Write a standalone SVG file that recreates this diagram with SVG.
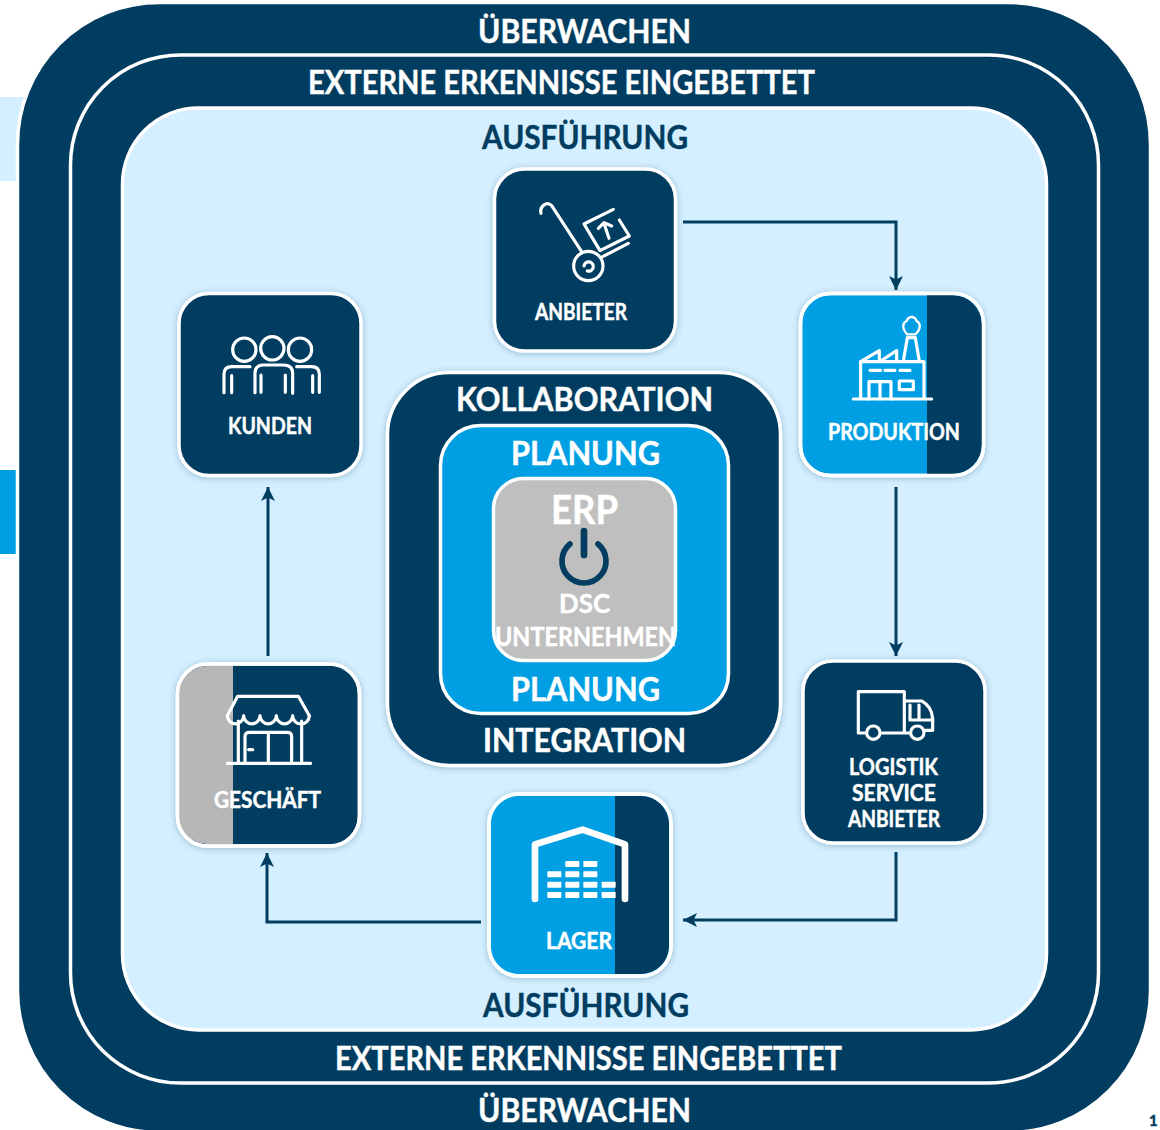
<svg xmlns="http://www.w3.org/2000/svg" width="1160" height="1130" viewBox="0 0 1160 1130">
<style>
text{font-family:"Lato","Liberation Sans",sans-serif;font-weight:700;fill:#fff;stroke:#fff;stroke-width:.45}
.b{font-size:32.500px}.l{font-size:22px}.n{fill:#013d60;stroke:#013d60}
.ic{fill:none;stroke:#fff;stroke-width:9.500;stroke-linecap:round;stroke-linejoin:round}
.cn{fill:none;stroke:#013d60;stroke-width:3;marker-end:url(#ah)}
.card{fill:#013d60;stroke:#fff;stroke-width:3.500;filter:url(#sh)}
.edge{fill:none;stroke:#fff;stroke-width:3.500}
</style>
<defs>
<marker id="ah" markerUnits="userSpaceOnUse" markerWidth="16" markerHeight="16" refX="14" refY="8" orient="auto"><path d="M0 1L14 8L0 15L3.500 8Z" fill="#013d60"/></marker>
<filter id="sh" x="-10%" y="-10%" width="120%" height="120%"><feDropShadow dx="0" dy="1" stdDeviation="3" flood-color="#013d60" flood-opacity=".3"/></filter>
</defs>
<rect width="1160" height="1130" fill="#fff"/>
<rect x="0" y="97" width="26" height="84" fill="#d4efff"/>
<rect x="0" y="470" width="16" height="84" fill="#009fe3"/>
<g id="frames">
<rect x="17.500" y="2.500" width="1133" height="1130" rx="142" fill="#013d60" stroke="#fff" stroke-width="3.500"/>
<rect x="70.500" y="55" width="1028" height="1028" rx="110" fill="#013d60" stroke="#fff" stroke-width="3.500"/>
<rect x="122.500" y="108" width="924" height="922" rx="76" fill="#d4efff" stroke="#fff" stroke-width="3.500"/>
</g>
<g id="frame-labels">
<text class="b" x="478" y="42.500" textLength="213" lengthAdjust="spacingAndGlyphs">ÜBERWACHEN</text>
<text class="b" x="308" y="93.500" textLength="507" lengthAdjust="spacingAndGlyphs">EXTERNE ERKENNISSE EINGEBETTET</text>
<text class="b n" x="482" y="148.500" textLength="206" lengthAdjust="spacingAndGlyphs">AUSFÜHRUNG</text>
<text class="b n" x="483" y="1016.500" textLength="206" lengthAdjust="spacingAndGlyphs">AUSFÜHRUNG</text>
<text class="b" x="335" y="1069.500" textLength="507" lengthAdjust="spacingAndGlyphs">EXTERNE ERKENNISSE EINGEBETTET</text>
<text class="b" x="478" y="1121.500" textLength="213" lengthAdjust="spacingAndGlyphs">ÜBERWACHEN</text>
<text class="n" x="1149" y="1126" font-size="15">1</text>
</g>
<g id="connectors">
<path class="cn" d="M683 222H896V290"/>
<path class="cn" d="M896 487V656"/>
<path class="cn" d="M896 852V920H683"/>
<path class="cn" d="M481 922H267V853"/>
<path class="cn" d="M268 656V487"/>
</g>
<g id="center">
<rect class="card" x="387.500" y="372.500" width="393" height="393" rx="62"/>
<rect x="440.500" y="425.500" width="288" height="288" rx="40" fill="#009fe3" stroke="#fff" stroke-width="3.500"/>
<text class="b" x="456" y="410.500" textLength="257" lengthAdjust="spacingAndGlyphs">KOLLABORATION</text>
<text class="b" x="511" y="464.500" textLength="149" lengthAdjust="spacingAndGlyphs">PLANUNG</text>
<text class="b" x="511" y="700.500" textLength="149" lengthAdjust="spacingAndGlyphs">PLANUNG</text>
<text class="b" x="483" y="751.500" textLength="203" lengthAdjust="spacingAndGlyphs">INTEGRATION</text>
</g>
<g id="erp">
<rect x="493.500" y="478.500" width="182" height="182" rx="30" fill="#bfbfbf" stroke="#fff" stroke-width="3.500"/>
<text x="551" y="524" font-size="41" textLength="67" lengthAdjust="spacingAndGlyphs">ERP</text>
<g transform="translate(480 470) scale(.3333)" fill="none" stroke="#013d60" stroke-linecap="round">
<path d="M270 222A66 66 0 1 0 354 222" stroke-width="17"/>
<path d="M312 183V255" stroke-width="20"/>
</g>
<text x="559" y="613" font-size="26" textLength="51" lengthAdjust="spacingAndGlyphs">DSC</text>
<text x="495" y="645.500" font-size="26" textLength="181" lengthAdjust="spacingAndGlyphs">UNTERNEHMEN</text>
</g>
<g id="anbieter">
<rect class="card" x="494.500" y="169" width="181" height="182" rx="30"/>
<g class="ic" transform="translate(480 160) scale(.3333)">
<path d="M183 160C178 140 200 122 215 137L305 275"/>
<circle cx="325" cy="318" r="44"/>
<path d="M312 318A14 14 0 1 1 322 333"/>
<path d="M400 148L312 192L360 272L448 228L418 180"/>
<path d="M387 235L372 190M355 205L372 188L395 198"/>
<path d="M368 290L445 250"/>
</g>
<text class="l" x="535" y="319.500" textLength="92" lengthAdjust="spacingAndGlyphs">ANBIETER</text>
</g>
<g id="produktion">
<rect class="card" x="800.500" y="293.500" width="183" height="182" rx="30" style="fill:#009fe3"/>
<path d="M927 295H952A30 30 0 0 1 982 325V444A30 30 0 0 1 952 474H927Z" fill="#013d60"/>
<rect class="edge" x="800.500" y="293.500" width="183" height="182" rx="30"/>
<g class="ic" transform="translate(790 285) scale(.3333)">
<path d="M190 342H425M212 342V230H402V342"/>
<path d="M212 230L268 197V228M272 228L320 197V228M340 228L352 158H376L388 228"/>
<path d="M352 148C334 130 338 112 350 108C356 92 374 92 380 108C392 114 394 132 376 148Z" stroke-width="7"/>
<path d="M240 256H272M285 256H315M330 256H360"/>
<path d="M237 342V290H303V342M270 290V342"/>
<rect x="328" y="288" width="42" height="26"/>
</g>
<text class="l" x="828" y="439.500" textLength="132" lengthAdjust="spacingAndGlyphs">PRODUKTION</text>
</g>
<g id="kunden">
<rect class="card" x="179" y="293.500" width="182" height="182" rx="30"/>
<g class="ic" transform="translate(170 285) scale(.3333)">
<circle cx="223" cy="194" r="35"/><circle cx="307" cy="190" r="35"/><circle cx="390" cy="194" r="35"/>
<path d="M162 323V268Q162 245 185 245H240M185 323V272"/>
<path d="M255 323V265Q255 240 280 240H340Q368 240 368 265V325M273 322V270M346 322V270"/>
<path d="M380 245H425Q448 245 448 268V322M428 322V272"/>
</g>
<text class="l" x="228" y="433.500" textLength="84" lengthAdjust="spacingAndGlyphs">KUNDEN</text>
</g>
<g id="geschaeft">
<rect class="card" x="177.500" y="664" width="182" height="182" rx="30"/>
<path d="M233 666H207A28 28 0 0 0 179 694V816A28 28 0 0 0 207 844H233Z" fill="#b7b7b7"/>
<rect class="edge" x="177.500" y="664" width="182" height="182" rx="30"/>
<g class="ic" transform="translate(170 655) scale(.3333)">
<path d="M172 182L203 124H385L418 182"/>
<path d="M172 182A24 24 0 0 0 221 182A24 24 0 0 0 270 182A24 24 0 0 0 319 182A24 24 0 0 0 368 182A24 24 0 0 0 418 182"/>
<path d="M205 198V325M395 198V325M172 325H422"/>
<path d="M225 325V245Q225 232 238 232H352Q365 232 365 245V325M295 232V325"/>
<path d="M236 284H248"/>
</g>
<text class="l" x="214" y="807.500" textLength="107" lengthAdjust="spacingAndGlyphs">GESCHÄFT</text>
</g>
<g id="lager">
<rect class="card" x="489" y="794" width="182" height="182" rx="30" style="fill:#009fe3"/>
<path d="M615 796H641A28 28 0 0 1 669 824V946A28 28 0 0 1 641 974H615Z" fill="#013d60"/>
<rect class="edge" x="489" y="794" width="182" height="182" rx="30"/>
<g transform="translate(480 785) scale(.3333)">
<path d="M165 342V178L308 134L435 178V342" fill="none" stroke="#fff" stroke-width="20" stroke-linecap="round" stroke-linejoin="round"/>
<g fill="#fff">
<rect x="256" y="228" width="42" height="18" rx="2"/><rect x="310" y="228" width="42" height="18" rx="2"/>
<rect x="202" y="259" width="42" height="18" rx="2"/><rect x="256" y="259" width="42" height="18" rx="2"/><rect x="310" y="259" width="42" height="18" rx="2"/>
<rect x="202" y="290" width="42" height="18" rx="2"/><rect x="256" y="290" width="42" height="18" rx="2"/><rect x="310" y="290" width="42" height="18" rx="2"/><rect x="365" y="290" width="42" height="18" rx="2"/>
<rect x="202" y="321" width="42" height="18" rx="2"/><rect x="256" y="321" width="42" height="18" rx="2"/><rect x="310" y="321" width="42" height="18" rx="2"/><rect x="365" y="321" width="42" height="18" rx="2"/>
</g>
</g>
<text class="l" x="546" y="948.500" textLength="66" lengthAdjust="spacingAndGlyphs">LAGER</text>
</g>
<g id="logistik">
<rect class="card" x="803" y="661" width="182" height="182" rx="30"/>
<g class="ic" transform="translate(795 655) scale(.3333)">
<path d="M213 234H190V110H328V234M258 234H345"/>
<path d="M328 138H380Q410 155 413 190V226H390"/>
<path d="M345 150V195H413M372 150V195"/>
<circle cx="235" cy="233" r="20"/><circle cx="367" cy="233" r="20"/>
</g>
<text class="l" x="849" y="774.500" textLength="89" lengthAdjust="spacingAndGlyphs">LOGISTIK</text>
<text class="l" x="852" y="800.500" textLength="84" lengthAdjust="spacingAndGlyphs">SERVICE</text>
<text class="l" x="848" y="826.500" textLength="92" lengthAdjust="spacingAndGlyphs">ANBIETER</text>
</g>
</svg>
